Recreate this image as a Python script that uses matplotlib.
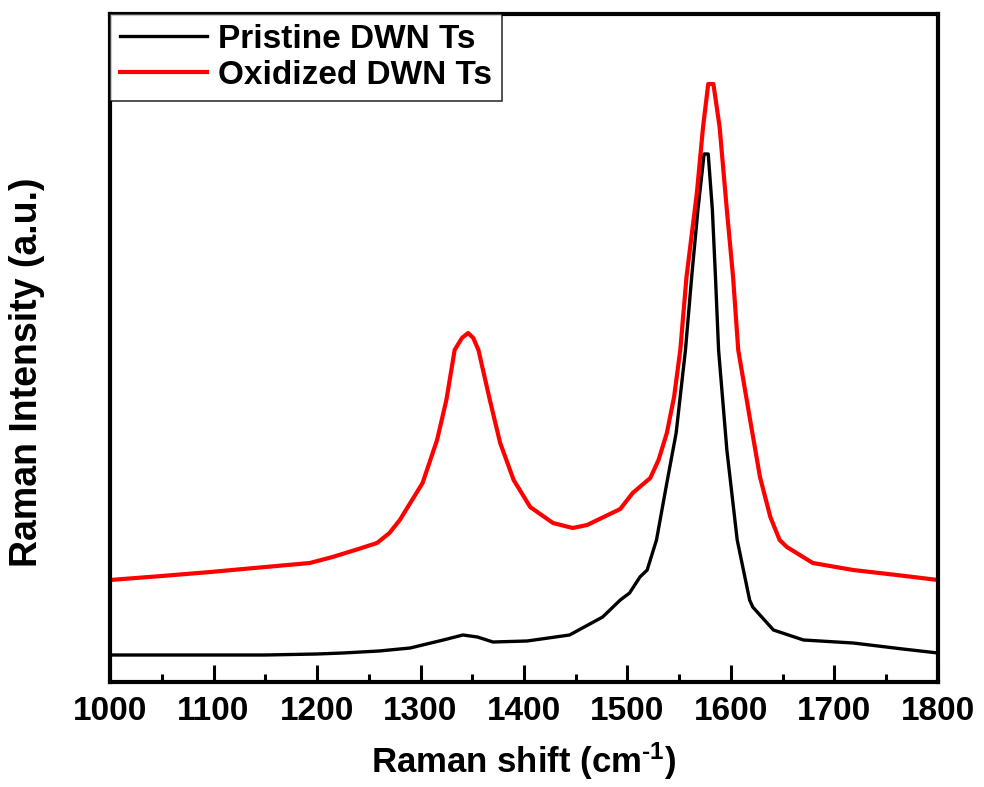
import matplotlib
matplotlib.use("Agg")
import matplotlib.pyplot as plt
from matplotlib.ticker import MultipleLocator

# Data (intensity in arbitrary units)
pristine_x = [1000, 1050, 1100, 1150, 1200, 1225, 1260, 1290, 1322, 1341, 1355, 1370,
              1403, 1444, 1476, 1493, 1502, 1512, 1519, 1528, 1538, 1547, 1556, 1562,
              1568, 1574, 1578, 1582, 1585, 1588, 1596, 1606, 1618, 1621, 1641, 1670,
              1718, 1766, 1800]
pristine_y = [27, 27, 27, 27, 28, 29, 31, 34, 42, 47, 45, 40,
              41, 47, 65, 82, 89, 105, 112, 142, 199, 249, 332, 405,
              472, 528, 528, 472, 405, 332, 232, 142, 82, 75, 52, 42,
              39, 33, 29]

oxidized_x = [1000, 1050, 1097, 1150, 1193, 1215, 1240, 1258, 1270, 1280, 1302, 1316, 1325,
              1333, 1340, 1346, 1351, 1356, 1367, 1377, 1390, 1406, 1428, 1447, 1461,
              1493, 1505, 1522, 1530, 1538, 1545, 1551, 1557, 1567, 1573, 1578, 1583, 1589, 1596,
              1602, 1607, 1618, 1628, 1638, 1647, 1654, 1679, 1718, 1760, 1800]
oxidized_y = [102, 106, 110, 115, 119, 125, 133, 139, 149, 162, 199, 242, 282,
              332, 344, 349, 344, 332, 282, 239, 202, 175, 159, 154, 157,
              173, 189, 204, 222, 249, 285, 332, 405, 489, 555, 598, 598, 555, 472,
              405, 332, 265, 205, 165, 142, 135, 119, 112, 107, 102]

labels = ["Pristine DWN Ts", "Oxidized DWN Ts"]
xticks = [1000, 1100, 1200, 1300, 1400, 1500, 1600, 1700, 1800]

plt.rcParams['font.family'] = ['Liberation Sans', 'DejaVu Sans']
plt.rcParams['font.weight'] = 'bold'
plt.rcParams['mathtext.fontset'] = 'custom'
plt.rcParams['mathtext.rm'] = 'Liberation Sans:bold'
plt.rcParams['mathtext.bf'] = 'Liberation Sans:bold'
plt.rcParams['mathtext.default'] = 'bf'

fig = plt.figure(figsize=(9.84, 7.87), dpi=100)
ax = fig.add_axes([110/984, 1-682/787, (938-110)/984, (682-14)/787])

ax.plot(pristine_x, pristine_y, color='black', lw=2.4, label=labels[0])
ax.plot(oxidized_x, oxidized_y, color='#ff0000', lw=3.0, label=labels[1])

ax.set_xlim(1000, 1800)
ax.set_ylim(0, 668)
ax.set_xticks(xticks)
ax.set_xticklabels([str(t) for t in xticks], fontsize=24, fontweight='bold')
ax.xaxis.set_minor_locator(MultipleLocator(50))
ax.tick_params(axis='x', which='major', direction='in', length=12, width=2.2, pad=10)
ax.tick_params(axis='x', which='minor', direction='in', length=6, width=2.2)
ax.set_yticks([])
for s in ax.spines.values():
    s.set_linewidth(3)

ax.set_xlabel("Raman shift (cm$^{\\text{-1}}$)", fontsize=25, fontweight='bold')
ax.xaxis.set_label_coords(0.5, -0.088)
ax.set_ylabel("Raman Intensity (a.u.)", fontsize=27, fontweight='bold')
ax.yaxis.set_label_coords(-0.078, 0.464)

leg = ax.legend(loc='upper left', borderaxespad=0, frameon=True,
                fancybox=False, handlelength=2.6, handletextpad=0.35,
                borderpad=0.3, labelspacing=0.15, prop={'size': 24, 'weight': 'bold'})
leg.get_frame().set_edgecolor('black')
leg.get_frame().set_linewidth(1.2)

fig.savefig("out.png", dpi=100)
